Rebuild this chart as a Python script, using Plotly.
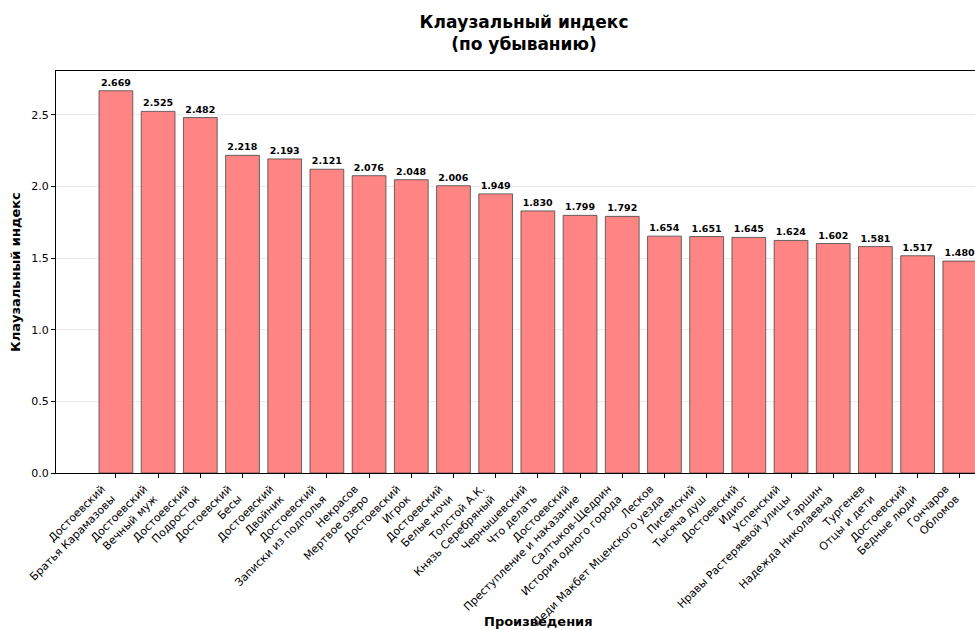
import plotly.graph_objects as go

authors = ["Достоевский", "Достоевский", "Достоевский", "Достоевский", "Достоевский",
           "Достоевский", "Некрасов", "Достоевский", "Достоевский", "Толстой А.К.",
           "Чернышевский", "Достоевский", "Салтыков-Щедрин", "Лесков", "Писемский",
           "Достоевский", "Успенский", "Гаршин", "Тургенев", "Достоевский", "Гончаров"]
works = ["Братья Карамазовы", "Вечный муж", "Подросток", "Бесы", "Двойник",
         "Записки из подполья", "Мертвое озеро", "Игрок", "Белые ночи", "Князь Серебряный",
         "Что делать", "Преступление и наказание", "История одного города",
         "Леди Макбет Мценского уезда", "Тысяча душ", "Идиот", "Нравы Растеряевой улицы",
         "Надежда Николаевна", "Отцы и дети", "Бедные люди", "Обломов"]
values = [2.669, 2.525, 2.482, 2.218, 2.193, 2.121, 2.076, 2.048, 2.006, 1.949,
          1.830, 1.799, 1.792, 1.654, 1.651, 1.645, 1.624, 1.602, 1.581, 1.517, 1.480]
yticks = [0.0, 0.5, 1.0, 1.5, 2.0, 2.5]

labels = [f"{a}<br>{w}" for a, w in zip(authors, works)]
xs = list(range(len(values)))

FONT = "DejaVu Sans"
W, H = 975, 630

fig = go.Figure()
fig.add_trace(go.Bar(
    x=xs, y=values, width=0.8,
    marker=dict(color="#ff8585", line=dict(color="rgba(70,70,70,0.8)", width=1)),
    text=[f"<b>{v:.3f}</b>" for v in values],
    textposition="outside", cliponaxis=False,
    textfont=dict(family=FONT, size=9.5, color="black"),
))

ml, mt, mb = 56, 71, 630 - 473
pw = W - ml
ph = H - mt - mb

fig.update_layout(
    width=W, height=H,
    margin=dict(l=ml, r=0, t=mt, b=mb, autoexpand=False),
    plot_bgcolor="white", paper_bgcolor="white",
    font=dict(family=FONT, color="black"),
    showlegend=False,
    title=dict(text="<b>Клаузальный индекс<br>(по убыванию)</b>",
               x=524 / W, xref="container", xanchor="center",
               y=0.955, yref="container", yanchor="top",
               font=dict(family=FONT, size=17, color="black")),
    xaxis=dict(range=[-1.42, 20.36], tickmode="array", tickvals=xs, ticktext=labels,
               tickangle=-45, tickfont=dict(size=11, family=FONT), automargin=False,
               ticklabelshift=-14,
               showline=True, linecolor="black", linewidth=1, mirror=True,
               ticks="outside", ticklen=4, tickcolor="black", showgrid=False,
               zeroline=False),
    yaxis=dict(range=[0, 2.807], tickmode="array", tickvals=yticks,
               ticktext=[f"{t:.1f}" for t in yticks], automargin=False,
               tickfont=dict(size=11, family=FONT),
               showline=True, linecolor="black", linewidth=1,
               ticks="outside", ticklen=4, tickcolor="black",
               showgrid=True, gridcolor="rgba(0,0,0,0.08)", zeroline=False),
    annotations=[
        dict(text="<b>Клаузальный индекс</b>", xref="paper", yref="paper",
             x=(15 - 56) / pw, y=(473 - 272) / ph, xanchor="center", yanchor="middle",
             showarrow=False, textangle=-90, font=dict(size=13, family=FONT)),
        dict(text="<b>Произведения</b>", xref="paper", yref="paper",
             x=(538 - 56) / pw, y=(473 - 621) / ph, xanchor="center", yanchor="middle",
             showarrow=False, font=dict(size=13, family=FONT)),
    ],
)

fig.write_html("out.html", config={"displayModeBar": False},
               post_script="document.body.style.margin='0';")
